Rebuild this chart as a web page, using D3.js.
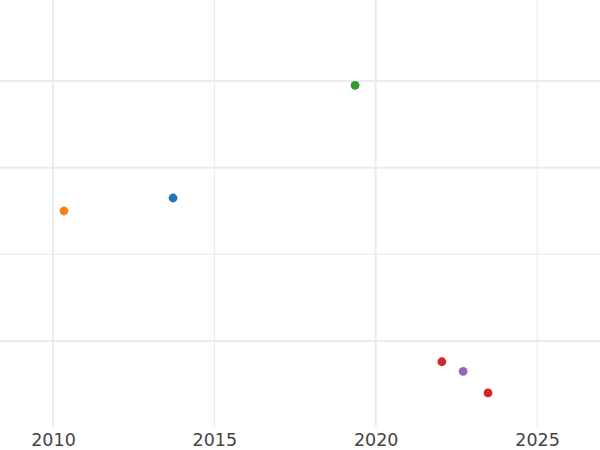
<!DOCTYPE html>
<html>
<head>
<meta charset="utf-8">
<script src="https://cdn.jsdelivr.net/npm/d3@7"></script>
<style>
  body { margin: 0; background: #fff; }
  .tick text { font-family: "DejaVu Sans", sans-serif; fill: #444; }
</style>
</head>
<body>
<svg id="chart" width="600" height="450"></svg>
<script>
'use strict'

/****** DATA ******/
const years  = [2010.34, 2013.72, 2019.36, 2022.05, 2022.71, 2023.48]
const values = [1.50, 1.65, 2.95, -0.24, -0.35, -0.60]
const groups = ['orange', 'blue', 'green', 'red', 'purple', 'red']

const xTicks      = [2010, 2015, 2020, 2025]
const xMajorGrid  = [2010, 2020]
const xMinorGrid  = [2015, 2025]
const yMajorGrid  = [3, 2, 0]
const yMinorGrid  = [1]

const palette = {
  blue: '#1f77b4', orange: '#ff7f0e', green: '#2ca02c',
  red: '#d62728', purple: '#9467bd'
}

/****** CHART ******/
const width = 600, plotBottom = 427

const x = d3.scaleLinear().domain([2008.358, 2026.95]).range([0, width])
const y = d3.scaleLinear().domain([-0.993, 3.935]).range([plotBottom, 0])

const svg = d3.select('#chart')

// grid
const grid = svg.append('g')
grid.selectAll('.ymin').data(yMinorGrid).join('line')
  .attr('x1', 0).attr('x2', width)
  .attr('y1', d => y(d)).attr('y2', d => y(d))
  .attr('stroke', '#ebebeb').attr('stroke-width', 1)
grid.selectAll('.xmin').data(xMinorGrid).join('line')
  .attr('y1', 0).attr('y2', plotBottom)
  .attr('x1', d => x(d)).attr('x2', d => x(d))
  .attr('stroke', '#ebebeb').attr('stroke-width', 1)
grid.selectAll('.ymaj').data(yMajorGrid).join('line')
  .attr('x1', 0).attr('x2', width)
  .attr('y1', d => y(d)).attr('y2', d => y(d))
  .attr('stroke', '#ebebeb').attr('stroke-width', 2)
grid.selectAll('.xmaj').data(xMajorGrid).join('line')
  .attr('y1', 0).attr('y2', plotBottom)
  .attr('x1', d => x(d)).attr('x2', d => x(d))
  .attr('stroke', '#ebebeb').attr('stroke-width', 2)

// x axis (labels only)
const xAxis = svg.append('g')
  .attr('transform', `translate(0,${plotBottom})`)
  .call(d3.axisBottom(x).tickValues(xTicks).tickFormat(d3.format('d')).tickSize(0).tickPadding(7))
xAxis.select('.domain').remove()
xAxis.selectAll('text').style('font-size', '17.5px')

// points
svg.append('g').selectAll('circle')
  .data(years.map((yr, i) => ({ year: yr, value: values[i], group: groups[i] })))
  .join('circle')
    .attr('cx', d => x(d.year))
    .attr('cy', d => y(d.value))
    .attr('r', 4.4)
    .attr('fill', d => palette[d.group])
</script>
</body>
</html>
